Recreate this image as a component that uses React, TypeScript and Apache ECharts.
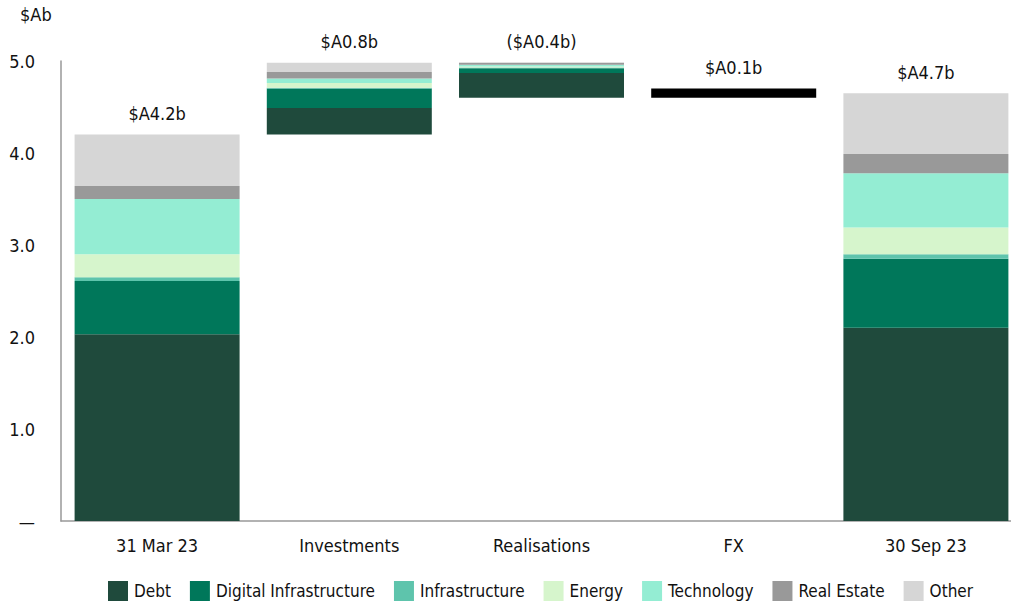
import React, { useEffect, useRef } from "react";
import * as echarts from "echarts";

const categories = ["31 Mar 23", "Investments", "Realisations", "FX", "30 Sep 23"];
const baseValues = [0, 4.2, 4.6, 4.6, 0];
const debt = [2.03, 0.29, 0.27, 0, 2.1];
const digitalInfra = [0.58, 0.21, 0.05, 0, 0.75];
const infrastructure = [0.04, 0.01, 0.01, 0, 0.05];
const energy = [0.25, 0.05, 0.01, 0, 0.29];
const technology = [0.6, 0.05, 0.02, 0, 0.59];
const realEstate = [0.14, 0.07, 0.02, 0, 0.21];
const other = [0.56, 0.1, 0.005, 0, 0.66];
const fx = [0, 0, 0, 0.1, 0];
const totalLabels = ["$A4.2b", "$A0.8b", "($A0.4b)", "$A0.1b", "$A4.7b"];
const yTicks = [0, 1, 2, 3, 4, 5];

const FONT = "'DejaVu Sans Condensed', 'Noto Sans', sans-serif";

export default function App() {
  const ref = useRef<HTMLDivElement>(null);
  useEffect(() => {
    if (!ref.current) return;
    const chart = echarts.init(ref.current, undefined, { renderer: "svg" });
    const segs = [
      { name: "Debt", data: debt, color: "#1f4a3c" },
      { name: "Digital Infrastructure", data: digitalInfra, color: "#00775a" },
      { name: "Infrastructure", data: infrastructure, color: "#5ec4ac" },
      { name: "Energy", data: energy, color: "#d6f5cc" },
      { name: "Technology", data: technology, color: "#94edd3" },
      { name: "Real Estate", data: realEstate, color: "#999999" },
      { name: "Other", data: other, color: "#d6d6d6" },
    ];
    const labelStyle = (text: string) => ({
      show: true,
      position: "top",
      distance: 12,
      formatter: text,
      color: "#111",
      fontSize: 18,
      fontFamily: FONT,
    });
    const series: any[] = [
      {
        name: "base",
        type: "bar",
        stack: "s",
        data: baseValues,
        itemStyle: { color: "transparent" },
        barWidth: 165,
        silent: true,
      },
    ];
    segs.forEach((s, si) => {
      series.push({
        name: s.name,
        type: "bar",
        stack: "s",
        barWidth: 165,
        itemStyle: { color: s.color },
        data: s.data.map((v, i) => {
          if (i === 3) return "-";
          if (si === segs.length - 1) {
            return { value: v, label: labelStyle(totalLabels[i]) };
          }
          return v;
        }),
      });
    });
    series.push({
      name: "FX",
      type: "bar",
      stack: "s",
      barWidth: 165,
      itemStyle: { color: "#000000" },
      data: fx.map((v, i) =>
        i === 3 ? { value: v, label: labelStyle(totalLabels[i]) } : "-"
      ),
    });
    chart.setOption({
      animation: false,
      textStyle: { fontFamily: FONT },
      grid: { left: 61, right: 0, top: 61, bottom: 81, containLabel: false },
      graphic: [
        {
          type: "text",
          left: 20,
          top: 5,
          style: { text: "$Ab", fontSize: 18, fontFamily: FONT, fill: "#111" },
        },
      ],
      legend: {
        left: 108,
        top: 581,
        padding: 0,
        itemWidth: 20,
        itemHeight: 20,
        itemGap: 19,
        icon: "rect",
        data: segs.map((s) => s.name),
        textStyle: { fontSize: 17, fontFamily: FONT, color: "#111", padding: [0, 0, 0, 1] },
      },
      xAxis: {
        type: "category",
        data: categories,
        axisLine: { show: true, lineStyle: { color: "#999", width: 1.5 } },
        axisTick: { show: false },
        axisLabel: { margin: 15, fontSize: 18, color: "#111", fontFamily: FONT },
      },
      yAxis: {
        type: "value",
        min: yTicks[0],
        max: yTicks[yTicks.length - 1],
        interval: 1,
        axisLine: { show: true, lineStyle: { color: "#999", width: 1.5 } },
        axisTick: { show: false },
        splitLine: { show: false },
        axisLabel: {
          margin: 26,
          fontSize: 18,
          color: "#111",
          fontFamily: FONT,
          formatter: (v: number) => (v === 0 ? "—" : v.toFixed(1)),
        },
      },
      series,
    });
    return () => chart.dispose();
  }, []);
  return (
    <div
      style={{
        position: "fixed",
        left: 0,
        top: 0,
        width: 1011,
        height: 602,
        overflow: "hidden",
        background: "#fff",
      }}
    >
      <div ref={ref} style={{ width: 1022, height: 602 }} />
    </div>
  );
}
